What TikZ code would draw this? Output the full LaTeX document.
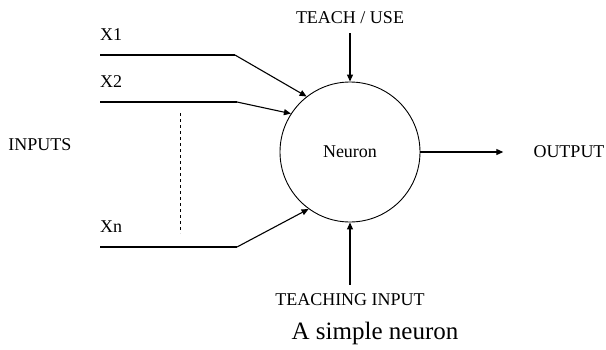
\documentclass[tikz,border=0pt]{standalone}
\usepackage{fontspec}
\setmainfont{Liberation Serif}
\usetikzlibrary{arrows.meta, positioning}

\begin{document}
\begin{tikzpicture}[x=1pt, y=-1pt,
        lbl/.style={font=\fontsize{18}{20}\selectfont, inner sep=0pt},
        cell/.style={draw, circle, line width=0.9pt, minimum size=140pt, inner sep=0pt, font=\fontsize{18}{20}\selectfont},
        wire/.style={line width=1.1pt},
        arr/.style={-{Triangle[length=7pt, width=6pt]}, line width=1.1pt}
    ]
        \useasboundingbox (0,0) rectangle (606,349);

        % NEURON
        \node[cell] (neuron) at (350,152) {Neuron};

        % INPUTS
        \node[lbl] (inputs) at (40,145) {INPUTS};
        \node[lbl, anchor=base west] (x1) at (100,40) {X1};
        \node[lbl, anchor=base west] (x2) at (100,87) {X2};
        \node[lbl, anchor=base west] (xn) at (100,232) {Xn};

        \coordinate (x1s) at (100,55);  \coordinate (x1b) at (235,55);
        \coordinate (x2s) at (100,102); \coordinate (x2b) at (237,102);
        \coordinate (xns) at (100,247); \coordinate (xnb) at (237,247);
        \coordinate (dtop) at (180,113); \coordinate (dbot) at (180,233);

        \draw[wire] (x1s) -- (x1b);
        \draw[arr] (x1b) -- (neuron.128);
        \draw[wire] (x2s) -- (x2b);
        \draw[arr] (x2b) -- (neuron.147);
        \draw[wire] (xns) -- (xnb);
        \draw[arr] (xnb) -- (neuron.234);
        \draw[line width=0.9pt, dash pattern=on 3pt off 3pt] (dtop) -- (dbot);

        % TEACH / USE and TEACHING INPUT
        \node[lbl] (teach) at (350,18) {TEACH / USE};
        \node[lbl] (tinput) at (350,300) {TEACHING INPUT};
        \draw[arr] ([yshift=-9pt]teach.south -| neuron.north) -- (neuron.north);
        \draw[arr] ([yshift=9pt]tinput.north -| neuron.south) -- (neuron.south);

        % OUTPUT
        \node[lbl] (output) at (569,152) {OUTPUT};
        \draw[arr] (neuron.east) -- ([xshift=-30pt]output.west);

        % CAPTION
        \node[font=\fontsize{25}{28}\selectfont, inner sep=0pt] (caption) at (375,333) {A simple neuron};
    \end{tikzpicture}
\end{document}
